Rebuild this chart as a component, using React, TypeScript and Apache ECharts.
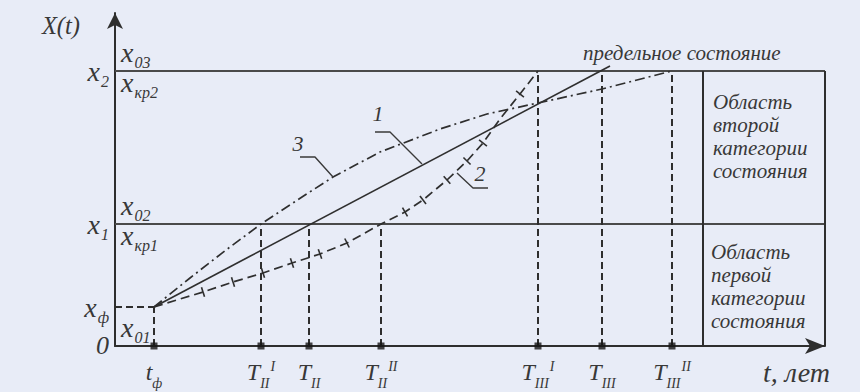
import React, { useEffect, useRef } from "react";
import * as echarts from "echarts";

// ---------- data (schematic units) ----------
const X_MAX = 71;
const Y_MAX = 33.3;

// state levels on the X(t) axis: 0, x_ф, x1, x2
const levelValues = [0, 3.9, 12.2, 27.5];
const levelNames = ["{z|0}", "{m|x}{s|ф}", "{m|x}{s|1}", "{m|x}{s|2}"];
const levelInnerAbove = ["{m|x}{s|01}", null, "{m|x}{s|02}", "{m|x}{s|03}"];
const levelInnerBelow = [null, null, "{m|x}{s|кр1}", "{m|x}{s|кр2}"];

// time points on the t axis and the level each drop line reaches
const timeValues = [3.9, 14.6, 19.4, 26.6, 42.3, 48.7, 55.7];
const timeLevels = [3.9, 12.2, 12.2, 12.2, 27.5, 27.5, 27.5];
const timeNames = [
  "{m|t}{s|ф}",
  "{m|T}{s|II}{p|I}",
  "{m|T}{s|II}",
  "{m|T}{s|II}{p|II}",
  "{m|T}{s|III}{p|I}",
  "{m|T}{s|III}",
  "{m|T}{s|III}{p|II}",
];

// region box (between boundary lines) and captions
const regionBounds = [58.8, 71];
const regionCaptions = [
  "Область\nвторой\nкатегории\nсостояния",
  "Область\nпервой\nкатегории\nсостояния",
];

// curves
const curve1 = [
  [3.9, 3.9],
  [49.5, 28.0],
];
const curve2 = [
  [3.9, 3.9], [8.8, 5.4], [11.8, 6.4], [14.8, 7.3], [17.7, 8.3], [20.5, 9.2],
  [23.2, 10.3], [26.6, 12.2], [29.0, 13.4], [30.8, 14.6], [33.2, 16.6],
  [35.2, 18.5], [36.8, 20.3], [38.5, 22.7], [40.5, 25.2], [42.3, 27.5],
];
const curve2Ticks = [8.8, 11.8, 14.8, 17.7, 20.5, 23.2, 29.0, 30.8, 33.2, 35.2, 36.8, 40.5];
const curve3 = [
  [3.9, 3.9], [7.5, 6.8], [11.1, 9.6], [14.6, 12.2], [18.7, 14.9], [21.8, 16.9],
  [26.5, 19.4], [32.5, 21.7], [37.2, 23.2], [42.3, 24.3], [48.7, 25.7], [55.7, 27.5],
];

// leader lines for curve numbers 1, 2, 3
const leader1 = [[30.7, 18.2], [27.5, 21.4], [26.0, 21.4]];
const leader2 = [[34.2, 17.3], [35.8, 15.8], [37.3, 15.8]];
const leader3 = [[21.8, 16.9], [20.0, 18.9], [18.5, 18.9]];
const curveNames = ["1", "2", "3"];

const limitCaption = "предельное состояние";
const yName = "X(t)";
const xName = "t, лет";

// ---------- styles ----------
const BG = "#e8ecf7";
const INK = "#2e2e2e";
const TEXT = "#383838";
const FONT = "Liberation Serif, Times New Roman, serif";

const lineSeries = (data: any[], color: string, width: number, type: any, z = 2) => ({
  type: "line",
  data,
  symbol: "none",
  silent: true,
  z,
  lineStyle: { color, width, type },
});

export default function App() {
  const ref = useRef<HTMLDivElement>(null);

  useEffect(() => {
    document.body.style.margin = "0";
    document.body.style.background = BG;
    const chart = echarts.init(ref.current!, undefined, { renderer: "svg" });

    const [xf, x1, x2] = [levelValues[1], levelValues[2], levelValues[3]];
    const series: any[] = [];

    // boundary lines x1, x2
    series.push(lineSeries([[0, x1], [X_MAX, x1]], "#4a4a4a", 2, "solid"));
    series.push(lineSeries([[0, x2], [X_MAX, x2]], "#4a4a4a", 2, "solid"));
    // region box verticals
    regionBounds.forEach((b) => series.push(lineSeries([[b, 0], [b, x2]], INK, 2, "solid")));
    // dashed drop lines
    series.push(lineSeries([[0, xf], [timeValues[0], xf]], INK, 2, [7, 4]));
    timeValues.forEach((t, i) =>
      series.push(lineSeries([[t, 0], [t, timeLevels[i]]], INK, 2, [7, 4]))
    );
    // curves
    series.push(lineSeries(curve1, "#2f2f2f", 1.7, "solid", 3));
    series.push(lineSeries(curve3, "#2f2f2f", 1.7, [10, 4, 2, 4], 3));
    const c2: any[] = curve2.map((p, i) => {
      const isTick = curve2Ticks.indexOf(p[0]) >= 0;
      const a = curve2[Math.max(0, i - 1)];
      const b = curve2[Math.min(curve2.length - 1, i + 1)];
      const ang = (Math.atan2(b[1] - a[1], b[0] - a[0]) * 180) / Math.PI;
      return isTick
        ? { value: p, symbol: "rect", symbolSize: [1.6, 10], symbolRotate: ang }
        : { value: p, symbol: "none" };
    });
    series.push({
      type: "line",
      data: c2,
      showSymbol: true,
      showAllSymbol: true,
      silent: true,
      z: 3,
      itemStyle: { color: "#2f2f2f" },
      lineStyle: { color: "#2f2f2f", width: 1.7, type: [9, 5] },
    });
    // leaders
    [leader1, leader2, leader3].forEach((l) => series.push(lineSeries(l, "#3a3a3a", 1.4, "solid", 3)));
    // markers on time axis
    series.push({
      type: "scatter",
      data: timeValues.map((t) => [t, 0]),
      symbol: "rect",
      symbolSize: 7,
      silent: true,
      z: 6,
      itemStyle: { color: "#151515" },
    });

    chart.setOption({
      animation: false,
      backgroundColor: BG,
      grid: { left: 115, right: 35, top: 13, bottom: 46 },
      xAxis: {
        type: "value",
        min: 0,
        max: X_MAX,
        axisLine: { show: true, symbol: ["none", "arrow"], symbolSize: [12, 20], lineStyle: { color: INK, width: 2 } },
        axisTick: { show: false },
        axisLabel: { show: false },
        splitLine: { show: false },
      },
      yAxis: {
        type: "value",
        min: 0,
        max: Y_MAX,
        axisLine: { show: true, symbol: ["none", "arrow"], symbolSize: [12, 16], lineStyle: { color: INK, width: 2 } },
        axisTick: { show: false },
        axisLabel: { show: false },
        splitLine: { show: false },
      },
      series,
    });

    const P = (x: number, y: number) => chart.convertToPixel({ gridIndex: 0 }, [x, y]) as number[];
    const base = { fill: TEXT, fontFamily: FONT, fontStyle: "italic" };
    const richL = {
      m: { ...base, fontSize: 28, lineHeight: 24, padding: [4, 0, 0, 0], verticalAlign: "top" },
      z: { ...base, fontSize: 26, lineHeight: 24, padding: [4, 0, 0, 0], verticalAlign: "top" },
      s: { ...base, fontSize: 16, lineHeight: 14, padding: [20, 0, 0, 1], verticalAlign: "top" },
    };
    const richB = {
      m: { ...base, fontSize: 24, lineHeight: 22, padding: [6, 0, 0, 0], verticalAlign: "top" },
      s: { ...base, fontSize: 14, lineHeight: 14, padding: [22, 0, 0, 0], verticalAlign: "top" },
      p: { ...base, fontSize: 14, lineHeight: 14, padding: [5, 0, 0, 1], verticalAlign: "top" },
    };
    const T = (text: string, x: number, y: number, style: any) => ({
      type: "text",
      x,
      y,
      silent: true,
      z: 100,
      style: { text, ...base, ...style },
    });

    const g: any[] = [];
    const [ox, oy] = P(0, 0);
    levelValues.forEach((v, i) => {
      const py = P(0, v)[1];
      g.push(T(levelNames[i], ox - 6, py - 18, { align: "right", verticalAlign: "top", rich: richL }));
      if (levelInnerAbove[i])
        g.push(T(levelInnerAbove[i] as string, ox + 6, py - 37, { align: "left", verticalAlign: "top", rich: richL }));
      if (levelInnerBelow[i])
        g.push(T(levelInnerBelow[i] as string, ox + 6, py - 7, { align: "left", verticalAlign: "top", rich: richL }));
    });
    timeValues.forEach((t, i) => {
      const [px] = P(t, 0);
      g.push(T(timeNames[i], px, oy + 8, { align: "center", verticalAlign: "top", rich: richB }));
    });
    // axis names
    const [, yTop] = P(0, Y_MAX);
    g.push(T(yName, ox - 35, yTop + 12, { align: "right", verticalAlign: "middle", fontSize: 24.5 }));
    const [xEnd] = P(X_MAX, 0);
    g.push(T(xName, xEnd - 62, oy + 26, { align: "left", verticalAlign: "middle", fontSize: 28 }));
    // region captions
    const [bx, by2] = P(regionBounds[0], x2);
    const [, by1] = P(regionBounds[0], x1);
    g.push(T(regionCaptions[0], bx + 10, by2 + 19.5, { align: "left", verticalAlign: "top", fontSize: 21, lineHeight: 23 }));
    g.push(T(regionCaptions[1], bx + 8, by1 + 16.5, { align: "left", verticalAlign: "top", fontSize: 21, lineHeight: 23 }));
    // limit state caption at the end of curve 1
    const [lx, ly] = P(curve1[1][0], curve1[1][1]);
    g.push(T(limitCaption, lx - 27, ly - 13, { align: "left", verticalAlign: "middle", fontSize: 21 }));
    // curve numbers at leader ends
    const nudges = [[3, -19], [-8, -15], [-2, -14]];
    [leader1, leader2, leader3].forEach((l, i) => {
      const [ex, ey] = P(l[l.length - 1][0], l[l.length - 1][1]);
      g.push(T(curveNames[i], ex + nudges[i][0], ey + nudges[i][1], { align: "center", verticalAlign: "middle", fontSize: 22 }));
    });

    chart.setOption({ graphic: g });

    return () => chart.dispose();
  }, []);

  return <div ref={ref} style={{ position: "fixed", left: 0, top: 0, width: 860, height: 392 }} />;
}
